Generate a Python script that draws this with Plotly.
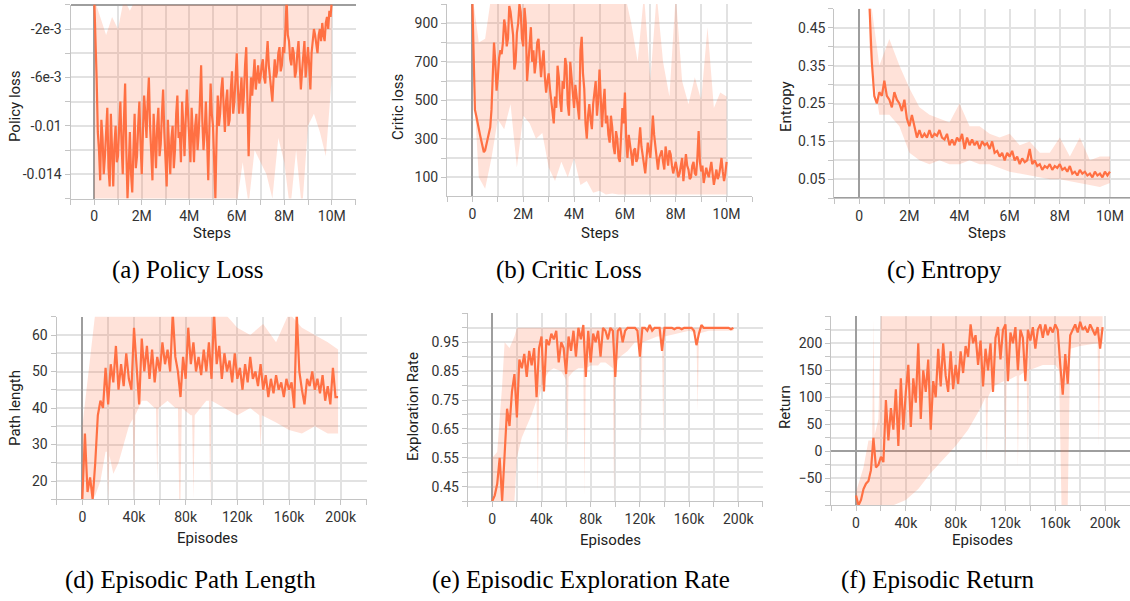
import numpy as np
import plotly.graph_objects as go

# ---------------- data ----------------
# (a) Policy loss vs steps
A_STEPS = np.linspace(0, 10e6, 201)
A_LOSS = [0.5e-3, -2.0e-3, -6.0e-3, -10.5e-3, -12.0e-3, -14.5e-3, -9.5e-3, -11.0e-3, -14.0e-3, -12.5e-3,
          -10.0e-3, -8.5e-3, -13.5e-3, -15.0e-3, -9.0e-3, -12.0e-3, -15.0e-3, -11.5e-3, -10.0e-3, -13.0e-3,
          -12.5e-3, -10.0e-3, -8.0e-3, -11.5e-3, -14.0e-3, -9.5e-3, -6.5e-3, -12.0e-3, -16.0e-3, -13.5e-3,
          -10.5e-3, -14.0e-3, -15.5e-3, -12.0e-3, -9.0e-3, -13.5e-3, -12.5e-3, -10.0e-3, -8.0e-3, -11.5e-3,
          -14.0e-3, -10.5e-3, -7.5e-3, -9.0e-3, -11.0e-3, -8.0e-3, -6.0e-3, -10.0e-3, -12.0e-3, -14.5e-3,
          -9.0e-3, -11.5e-3, -13.5e-3, -10.0e-3, -8.5e-3, -12.5e-3, -11.5e-3, -9.0e-3, -7.0e-3, -10.5e-3,
          -13.0e-3, -15.0e-3, -9.5e-3, -12.0e-3, -14.0e-3, -11.0e-3, -10.0e-3, -13.5e-3, -12.0e-3, -9.0e-3,
          -7.5e-3, -11.0e-3, -10.5e-3, -13.0e-3, -8.0e-3, -10.0e-3, -12.5e-3, -9.5e-3, -7.0e-3, -9.0e-3,
          -11.0e-3, -13.0e-3, -8.5e-3, -11.5e-3, -13.0e-3, -10.0e-3, -9.0e-3, -12.0e-3, -10.5e-3, -8.0e-3,
          -5.0e-3, -9.5e-3, -12.0e-3, -10.5e-3, -8.0e-3, -11.0e-3, -14.5e-3, -10.0e-3, -6.5e-3, -9.0e-3,
          -10.0e-3, -13.0e-3, -16.0e-3, -11.0e-3, -7.5e-3, -10.0e-3, -9.0e-3, -7.0e-3, -6.0e-3, -8.5e-3,
          -10.5e-3, -8.0e-3, -7.0e-3, -10.0e-3, -9.5e-3, -7.0e-3, -5.5e-3, -9.0e-3, -8.0e-3, -6.0e-3,
          -4.0e-3, -7.0e-3, -9.0e-3, -7.5e-3, -6.0e-3, -9.0e-3, -7.5e-3, -5.0e-3, -3.5e-3, -8.0e-3,
          -12.5e-3, -8.5e-3, -6.0e-3, -7.5e-3, -5.5e-3, -4.5e-3, -7.0e-3, -6.0e-3, -5.0e-3, -6.5e-3,
          -6.0e-3, -5.0e-3, -4.5e-3, -6.0e-3, -6.5e-3, -4.5e-3, -3.0e-3, -5.0e-3, -6.0e-3, -7.0e-3,
          -8.0e-3, -6.0e-3, -4.5e-3, -6.0e-3, -5.5e-3, -4.0e-3, -3.5e-3, -5.5e-3, -5.0e-3, -3.5e-3,
          -4.0e-3, -2.0e-3, 0.5e-3, -2.5e-3, -3.0e-3, -4.5e-3, -5.0e-3, -3.5e-3, -4.0e-3, -6.0e-3,
          -5.5e-3, -4.0e-3, -3.0e-3, -5.0e-3, -7.0e-3, -5.5e-3, -4.5e-3, -3.0e-3, -6.0e-3, -4.5e-3,
          -3.5e-3, -5.0e-3, -7.0e-3, -4.0e-3, -3.0e-3, -2.0e-3, -2.5e-3, -3.5e-3, -4.0e-3, -2.5e-3,
          -2.0e-3, -3.0e-3, -1.5e-3, -2.5e-3, -3.0e-3, -1.5e-3, -1.0e-3, -2.0e-3, -0.5e-3, -1.0e-3,
          0.3e-3]
A_BAND_STEPS = np.linspace(0, 10e6, 41)
A_UPPER = [0.5e-3, -1.0e-3, -2.5e-3, -1.0e-3, -2.0e-3, 0.5e-3, -0.5e-3, 0.5e-3, 0.5e-3, 0.5e-3,
           0.5e-3, 0.5e-3, 0.5e-3, 0.5e-3, 0.5e-3, 0.5e-3, 0.5e-3, 0.5e-3, 0.5e-3, 0.5e-3,
           0.5e-3, 0.5e-3, 0.5e-3, 0.5e-3, 0.5e-3, 0.5e-3, 0.5e-3, 0.5e-3, 0.5e-3, 0.5e-3,
           0.5e-3, 0.5e-3, 0.5e-3, 0.5e-3, 0.5e-3, 0.5e-3, 0.5e-3, 0.5e-3, 0.5e-3, 0.5e-3, 0.5e-3]
A_LOWER = [-17e-3, -17e-3, -17e-3, -17e-3, -17e-3, -17e-3, -17e-3, -17e-3, -17e-3, -17e-3,
           -17e-3, -17e-3, -17e-3, -17e-3, -17e-3, -17e-3, -17e-3, -17e-3, -17e-3, -17e-3,
           -17e-3, -17e-3, -17e-3, -16.0e-3, -16.5e-3, -13.0e-3, -16.5e-3, -12.0e-3, -13.0e-3, -14.0e-3,
           -16.0e-3, -11.0e-3, -13.0e-3, -17.0e-3, -12.0e-3, -17.0e-3, -10.0e-3, -9.0e-3, -10.5e-3, -12.5e-3,
           -6.0e-3]
A_TICKVALS = [-0.014, -0.01, -0.006, -0.002]
A_TICKTEXT = ["-0.014", "-0.01", "-6e-3", "-2e-3"]

# (b) Critic loss vs steps
B_STEPS = np.linspace(0, 10e6, 201)
B_LOSS = [1000, 700, 450, 420, 380, 340, 320, 290, 260, 230,
          240, 270, 300, 330, 360, 450, 600, 800, 700, 550,
          620, 720, 760, 740, 800, 920, 880, 780, 820, 990,
          960, 880, 840, 660, 700, 850, 900, 1000, 960, 820,
          780, 980, 900, 600, 700, 820, 880, 700, 760, 640,
          700, 800, 820, 720, 620, 700, 760, 620, 540, 600,
          640, 560, 500, 420, 380, 520, 460, 680, 620, 500,
          440, 600, 560, 720, 680, 480, 420, 700, 620, 500,
          460, 580, 520, 440, 400, 760, 830, 640, 560, 380,
          300, 420, 480, 400, 350, 480, 560, 600, 420, 500,
          660, 520, 360, 480, 560, 380, 420, 320, 280, 420,
          360, 260, 220, 340, 300, 200, 180, 320, 460, 380,
          540, 300, 200, 320, 280, 220, 160, 240, 250, 180,
          200, 300, 360, 260, 220, 160, 120, 200, 280, 240,
          200, 300, 420, 320, 260, 180, 140, 200, 220, 240,
          180, 140, 260, 200, 160, 240, 220, 160, 120, 150,
          180, 140, 100, 120, 160, 200, 80, 140, 220, 160,
          140, 90, 100, 160, 180, 120, 110, 200, 340, 180,
          130, 160, 70, 110, 150, 120, 100, 140, 180, 120,
          60, 100, 140, 90, 110, 150, 200, 130, 80, 120,
          180]
B_BAND_STEPS = np.linspace(0, 10e6, 41)
B_UPPER = [1050, 800, 820, 1050, 1050, 1050, 1050, 1050, 1050, 1050,
           1050, 1050, 1050, 1050, 1050, 1050, 1050, 1050, 1050, 1050,
           1050, 1050, 1050, 1050, 1050, 900, 700, 1050, 600, 1050,
           700, 520, 1050, 600, 480, 620, 500, 880, 460, 540, 520]
B_LOWER = [700, 100, 40, 200, 400, 350, 480, 150, 420, 380,
           300, 330, 150, 80, 180, 100, 200, 60, 80, 20,
           30, 10, 15, 10, 10, 10, 10, 10, 10, 10,
           10, 10, 10, 10, 10, 10, 10, 10, 10, 10, 10]
B_TICKVALS = [100, 300, 500, 700, 900]

# (c) Entropy vs steps
C_STEPS = np.linspace(0, 10e6, 101)
C_ENTROPY = [None, None, None, None, 0.52, 0.36, 0.27, 0.25, 0.28, 0.27,
             0.31, 0.27, 0.26, 0.24, 0.28, 0.26, 0.25, 0.23, 0.26, 0.21,
             0.19, 0.22, 0.19, 0.16, 0.18, 0.16, 0.17, 0.16, 0.18, 0.16,
             0.17, 0.165, 0.18, 0.16, 0.155, 0.17, 0.14, 0.155, 0.14, 0.16,
             0.15, 0.17, 0.13, 0.16, 0.14, 0.155, 0.14, 0.15, 0.13, 0.15,
             0.14, 0.145, 0.13, 0.15, 0.12, 0.125, 0.11, 0.12, 0.10, 0.12,
             0.11, 0.125, 0.10, 0.11, 0.09, 0.105, 0.095, 0.10, 0.13, 0.09,
             0.10, 0.085, 0.09, 0.075, 0.085, 0.08, 0.09, 0.075, 0.085, 0.08,
             0.09, 0.075, 0.08, 0.07, 0.085, 0.065, 0.07, 0.06, 0.075, 0.065,
             0.07, 0.06, 0.065, 0.055, 0.07, 0.06, 0.065, 0.055, 0.07, 0.06,
             0.07]
C_BAND_STEPS = np.linspace(0.4e6, 10e6, 25)
C_UPPER = [0.55, 0.35, 0.42, 0.35, 0.29, 0.24, 0.22, 0.21, 0.20, 0.25,
           0.19, 0.19, 0.17, 0.16, 0.17, 0.14, 0.15, 0.12, 0.12, 0.16,
           0.11, 0.16, 0.10, 0.11, 0.11]
C_LOWER = [0.40, 0.22, 0.22, 0.19, 0.12, 0.10, 0.09, 0.10, 0.09, 0.09,
           0.10, 0.09, 0.09, 0.08, 0.07, 0.065, 0.06, 0.055, 0.05, 0.05,
           0.045, 0.04, 0.035, 0.03, 0.04]
C_TICKVALS = [0.05, 0.15, 0.25, 0.35, 0.45]

# (d) Path length vs episodes
D_EPISODES = np.arange(0, 200e3, 2e3)
D_LENGTH = [15, 33, 17, 21, 15, 25, 38, 42, 40, 51,
            41, 52, 47, 57, 45, 52, 46, 55, 48, 45,
            62, 52, 41, 59, 50, 57, 48, 56, 47, 54,
            50, 58, 52, 56, 50, 66, 54, 50, 43, 54,
            48, 62, 52, 58, 50, 54, 49, 56, 50, 58,
            48, 66, 52, 57, 48, 55, 50, 53, 47, 55,
            48, 51, 45, 52, 47, 54, 48, 50, 46, 52,
            45, 49, 43, 48, 44, 49, 45, 47, 43, 48,
            45, 47, 40, 66, 50, 45, 41, 48, 46, 50,
            45, 48, 44, 49, 42, 46, 41, 51, 43, 43]
D_UP_EPISODES = [0, 10e3, 20e3, 30e3, 40e3, 50e3, 60e3, 70e3, 80e3, 90e3, 100e3,
                 110e3, 120e3, 130e3, 140e3, 150e3, 160e3, 170e3, 180e3, 190e3, 198e3]
D_UPPER = [35, 66, 66, 66, 66, 66, 66, 66, 66, 66, 66, 66, 62, 60, 63, 58, 66, 62, 60, 58, 56]
D_LOW_EPISODES = [0, 8e3, 10e3, 14e3, 18e3, 19e3, 20e3, 21e3, 24e3, 28e3,
                  32e3, 36e3, 39e3, 40e3, 41e3, 46e3, 50e3, 56e3, 57e3, 58e3,
                  59e3, 66e3, 72e3, 74e3, 75e3, 76e3, 77e3, 84e3, 85e3, 86e3,
                  87e3, 96e3, 98e3, 99e3, 100e3, 110e3, 120e3, 130e3, 137e3, 138e3,
                  139e3, 150e3, 160e3, 170e3, 180e3, 190e3, 198e3]
D_LOWER = [15, 15, 16, 20, 28, 28, 15, 27, 22, 25,
           30, 35, 37, 15, 38, 42, 42, 40, 40, 20,
           40, 42, 40, 40, 15, 15, 40, 38, 38, 15,
           38, 42, 42, 15, 42, 40, 38, 40, 38, 29,
           38, 36, 34, 33, 35, 33, 33]
D_TICKVALS = [20, 30, 40, 50, 60]

# (e) Exploration rate vs episodes
E_EPISODES = np.arange(0, 198e3, 2e3)
E_RATE = [0.40, 0.42, 0.46, 0.55, 0.40, 0.58, 0.72, 0.66, 0.78, 0.84,
          0.69, 0.89, 0.86, 0.91, 0.83, 0.92, 0.87, 0.93, 0.76, 0.93,
          0.97, 0.78, 0.96, 0.94, 0.98, 0.96, 0.99, 0.88, 0.95, 0.93,
          0.84, 0.97, 0.92, 0.99, 0.90, 1.00, 0.96, 1.01, 0.83, 0.99,
          0.88, 0.98, 0.95, 0.99, 0.90, 1.00, 0.99, 0.96, 1.00, 0.99,
          0.83, 0.99, 1.00, 0.95, 0.99, 1.00, 1.00, 1.00, 1.00, 0.99,
          0.90, 1.00, 1.00, 0.99, 1.01, 0.99, 1.00, 1.00, 1.00, 0.92,
          1.00, 1.00, 1.00, 1.00, 0.995, 1.00, 1.00, 0.995, 1.00, 1.00,
          1.00, 1.00, 0.99, 0.94, 0.98, 1.01, 1.00, 1.00, 1.00, 1.00,
          1.00, 1.00, 1.00, 1.00, 1.00, 1.00, 1.00, 0.995, 1.00]
E_UP_EPISODES = [0, 4e3, 8e3, 10e3, 14e3, 18e3, 20e3, 196e3]
E_UPPER = [0.55, 0.57, 0.80, 0.95, 0.93, 0.97, 1.0, 1.0]
E_LOW_EPISODES = [0, 18e3, 20e3, 24e3, 28e3, 32e3, 36e3, 37e3, 38e3, 42e3,
                  46e3, 50e3, 56e3, 60e3, 61e3, 62e3, 66e3, 70e3, 74e3, 75e3,
                  76e3, 80e3, 86e3, 88e3, 92e3, 98e3, 99e3, 100e3, 104e3, 110e3,
                  116e3, 120e3, 121e3, 122e3, 128e3, 134e3, 138e3, 139e3, 140e3, 150e3,
                  160e3, 166e3, 167e3, 168e3, 176e3, 186e3, 196e3]
E_LOWER = [0.40, 0.40, 0.55, 0.62, 0.66, 0.70, 0.75, 0.43, 0.76, 0.82,
           0.85, 0.86, 0.85, 0.82, 0.56, 0.83, 0.85, 0.86, 0.86, 0.42,
           0.86, 0.87, 0.87, 0.88, 0.88, 0.86, 0.40, 0.88, 0.90, 0.92,
           0.95, 0.95, 0.61, 0.95, 0.96, 0.97, 0.97, 0.61, 0.97, 0.98,
           0.99, 0.98, 0.71, 0.98, 0.99, 0.99, 0.99]
E_TICKVALS = [0.45, 0.55, 0.65, 0.75, 0.85, 0.95]

# (f) Return vs episodes
F_EPISODES = np.arange(0, 200e3, 2e3)
F_RETURN = [-82, -100, -90, -70, -60, -55, -35, 25, -30, -25,
            -10, -20, 95, 20, 80, 40, 115, 10, 135, 40,
            110, 160, 45, 135, 90, 200, 60, 150, 110, 170,
            40, 130, 100, 190, 120, 200, 140, 110, 185, 115,
            160, 125, 185, 145, 195, 175, 235, 200, 215, 160,
            205, 120, 190, 150, 200, 110, 210, 230, 170, 225,
            235, 130, 220, 200, 230, 150, 225, 210, 130, 225,
            205, 230, 190, 225, 235, 210, 235, 215, 230, 220,
            235, 225, 160, 105, 180, 125, 215, 225, 235, 220,
            240, 225, 230, 220, 235, 225, 215, 230, 190, 230]
F_UP_EPISODES = [0, 6e3, 10e3, 13e3, 14e3, 15e3, 18e3, 20e3, 198e3]
F_UPPER = [-75, -30, 20, 20, 245, 30, 60, 255, 255]
F_LOW_EPISODES = [0, 30e3, 40e3, 50e3, 60e3, 70e3, 80e3, 90e3, 100e3, 104e3,
                  105e3, 106e3, 110e3, 119e3, 120e3, 121e3, 129e3, 130e3, 131e3, 137e3,
                  138e3, 139e3, 150e3, 160e3, 163e3, 165e3, 170e3, 172e3, 180e3, 194e3,
                  195e3, 196e3, 198e3]
F_LOWER = [-100, -100, -90, -70, -40, -15, 10, 40, 80, 100,
           -25, 100, 120, 130, -30, 130, 140, -30, 140, 150,
           -10, 150, 160, 160, 150, -100, -100, 190, 195, 200,
           10, 200, 200]
F_TICKVALS = [-50, 0, 50, 100, 150, 200]

# ---------------- styling ----------------
W, H = 1130, 601
LINE_COLOR = "#FF7043"
BAND_COLOR = "rgba(255,112,67,0.2)"
GRID = "#e2e2e2"
AXLINE = "#c4c4c4"
ZERO = "#9e9e9e"
TICKFONT = dict(family="Roboto", size=14, color="#333333")
TITLEFONT = dict(family="Roboto", size=15, color="#212121")
CAPFONT = dict(family="Liberation Serif", size=25, color="#000000")

panels = [
    dict(x=A_STEPS, y=A_LOSS, bux=A_BAND_STEPS, bu=A_UPPER, blx=A_BAND_STEPS, bl=A_LOWER,
         xd=(70.5, 355.5), yd=(4.8, 198.5), xr=[-1e6, 11e6], yr=[-0.016, 0],
         xmaj=2e6, xmin=1e6, yvals=A_TICKVALS, ytext=A_TICKTEXT, ymin=0.002, yfmt=None,
         xt="Steps", xtp=(212, 233), yt="Policy loss", ytp=(15, 106),
         cap="(a) Policy Loss", capp=(187, 270)),
    dict(x=B_STEPS, y=B_LOSS, bux=B_BAND_STEPS, bu=B_UPPER, blx=B_BAND_STEPS, bl=B_LOWER,
         xd=(447, 752), yd=(4.1, 195.9), xr=[-1e6, 11e6], yr=[3, 1000],
         xmaj=2e6, xmin=1e6, yvals=B_TICKVALS, ytext=None, ymin=100, yfmt=None,
         xt="Steps", xtp=(600, 233), yt="Critic loss", ytp=(398, 107),
         cap="(b) Critic Loss", capp=(569, 270)),
    dict(x=C_STEPS, y=C_ENTROPY, bux=C_BAND_STEPS, bu=C_UPPER, blx=C_BAND_STEPS, bl=C_LOWER,
         xd=(834.2, 1130), yd=(8.75, 198.25), xr=[-1e6, 10.8e6], yr=[0, 0.5],
         xmaj=2e6, xmin=1e6, yvals=C_TICKVALS, ytext=None, ymin=0.05, yfmt=".2f",
         xt="Steps", xtp=(987, 233), yt="Entropy", ytp=(786, 106),
         cap="(c) Entropy", capp=(944, 270)),
    dict(x=D_EPISODES, y=D_LENGTH, bux=D_UP_EPISODES, bu=D_UPPER, blx=D_LOW_EPISODES, bl=D_LOWER,
         xd=(56.5, 366.5), yd=(316.75, 499.25), xr=[-20e3, 220e3], yr=[15, 65],
         xmaj=40e3, xmin=20e3, yvals=D_TICKVALS, ytext=None, ymin=5, yfmt=None,
         xt="Episodes", xtp=(207, 538), yt="Path length", ytp=(15, 408),
         cap="(d) Episodic Path Length", capp=(190, 580)),
    dict(x=E_EPISODES, y=E_RATE, bux=E_UP_EPISODES, bu=E_UPPER, blx=E_LOW_EPISODES, bl=E_LOWER,
         xd=(467.7, 762.9), yd=(313.4, 501.1), xr=[-20e3, 220e3], yr=[0.40, 1.05],
         xmaj=40e3, xmin=20e3, yvals=E_TICKVALS, ytext=None, ymin=0.05, yfmt=".2f",
         xt="Episodes", xtp=(610, 540), yt="Exploration Rate", ytp=(413, 407),
         cap="(e) Episodic Exploration Rate", capp=(581, 580)),
    dict(x=F_EPISODES, y=F_RETURN, bux=F_UP_EPISODES, bu=F_UPPER, blx=F_LOW_EPISODES, bl=F_LOWER,
         xd=(831.1, 1130), yd=(316.3, 505.3), xr=[-20e3, 220e3], yr=[-100, 250],
         xmaj=40e3, xmin=20e3, yvals=F_TICKVALS, ytext=None, ymin=25, yfmt=None,
         xt="Episodes", xtp=(982, 540), yt="Return", ytp=(785, 407),
         cap="(f) Episodic Return", capp=(938, 580)),
]

fig = go.Figure()
annotations = []
layout = dict(width=W, height=H, margin=dict(l=0, r=0, t=0, b=0),
              paper_bgcolor="white", plot_bgcolor="white", showlegend=False)

for i, p in enumerate(panels, start=1):
    xa = "x" if i == 1 else f"x{i}"
    ya = "y" if i == 1 else f"y{i}"
    # band (spread of the raw, unsmoothed values)
    fig.add_trace(go.Scatter(x=p["blx"], y=p["bl"], mode="lines", line=dict(width=0, color=BAND_COLOR),
                             xaxis=xa, yaxis=ya, hoverinfo="skip"))
    fig.add_trace(go.Scatter(x=p["bux"], y=p["bu"], mode="lines", line=dict(width=0, color=BAND_COLOR),
                             fill="tonexty", fillcolor=BAND_COLOR, xaxis=xa, yaxis=ya, hoverinfo="skip"))
    # smoothed line
    fig.add_trace(go.Scatter(x=p["x"], y=p["y"], mode="lines", line=dict(width=2.2, color=LINE_COLOR),
                             connectgaps=False, xaxis=xa, yaxis=ya))

    common = dict(showgrid=True, gridcolor=GRID, gridwidth=1.5,
                  ticks="outside", ticklen=5, tickcolor=AXLINE,
                  showline=True, linecolor=AXLINE, linewidth=1,
                  zeroline=True, zerolinecolor=ZERO, zerolinewidth=2,
                  tickfont=TICKFONT, fixedrange=True)
    xcfg = dict(common, domain=[p["xd"][0] / W, p["xd"][1] / W], range=p["xr"],
                anchor=ya, tickmode="linear", tick0=0, dtick=p["xmaj"], tickformat="~s",
                minor=dict(tick0=0, dtick=p["xmin"], showgrid=True, gridcolor=GRID, gridwidth=1.5,
                           ticks="outside", ticklen=5, tickcolor=AXLINE))
    ycfg = dict(common, domain=[1 - p["yd"][1] / H, 1 - p["yd"][0] / H], range=p["yr"],
                anchor=xa, tickmode="array", tickvals=p["yvals"],
                minor=dict(tickmode="linear", tick0=0, dtick=p["ymin"], showgrid=True, gridcolor=GRID,
                           gridwidth=1.5, ticks="outside", ticklen=5, tickcolor=AXLINE))
    if p["ytext"] is not None:
        ycfg["ticktext"] = p["ytext"]
    if p["yfmt"]:
        ycfg["tickformat"] = p["yfmt"]
    key = "" if i == 1 else str(i)
    layout["xaxis" + key] = xcfg
    layout["yaxis" + key] = ycfg

    annotations.append(dict(text=p["xt"], x=p["xtp"][0] / W, y=1 - p["xtp"][1] / H,
                            xref="paper", yref="paper", showarrow=False, font=TITLEFONT,
                            xanchor="center", yanchor="middle"))
    annotations.append(dict(text=p["yt"], x=p["ytp"][0] / W, y=1 - p["ytp"][1] / H,
                            xref="paper", yref="paper", showarrow=False, font=TITLEFONT,
                            textangle=-90, xanchor="center", yanchor="middle"))
    annotations.append(dict(text=p["cap"], x=p["capp"][0] / W, y=1 - p["capp"][1] / H,
                            xref="paper", yref="paper", showarrow=False, font=CAPFONT,
                            xanchor="center", yanchor="middle"))

layout["annotations"] = annotations
fig.update_layout(**layout)
fig.write_html("out.html")
